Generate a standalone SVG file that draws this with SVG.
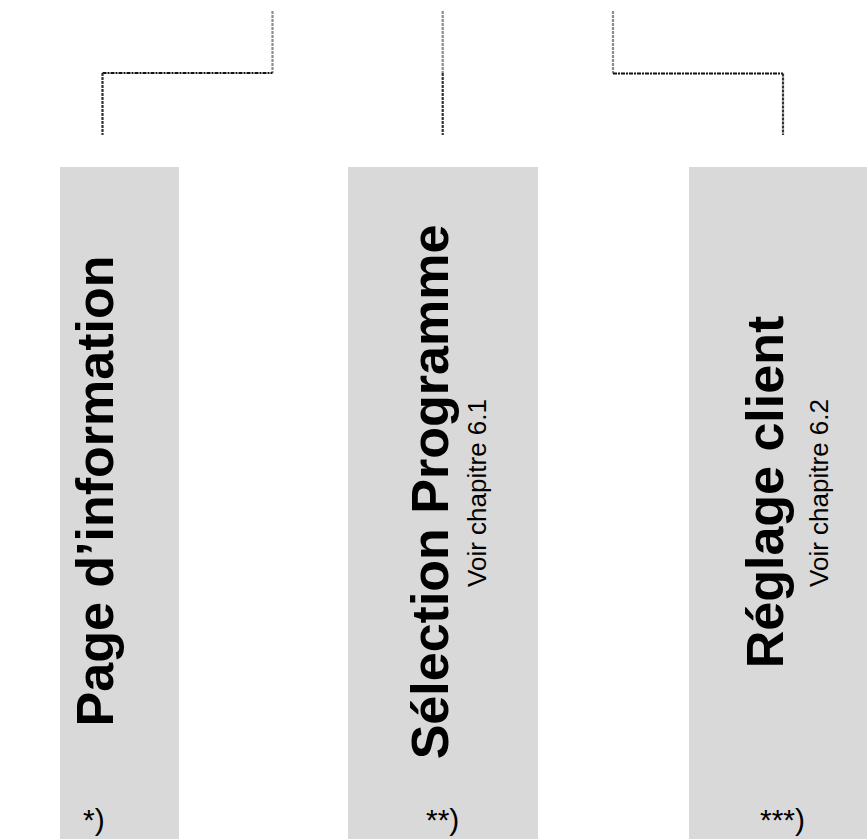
<svg xmlns="http://www.w3.org/2000/svg" width="867" height="839" viewBox="0 0 867 839">
<style>
.box{fill:#d9d9d9;stroke:none}
.title{font-family:"Liberation Sans",Arial,sans-serif;font-weight:bold;font-size:52px;fill:#000}
.sub{font-family:"Liberation Sans",Arial,sans-serif;font-size:26px;fill:#000}
.note{font-family:"Liberation Sans",Arial,sans-serif;font-size:30px;fill:#000}
.up{stroke:#8c8c8c;stroke-width:2.2;fill:none;stroke-dasharray:3,1}
.hz{stroke:#111;stroke-width:2.2;fill:none;stroke-dasharray:4,1,2,1}
.dn{stroke:#333;stroke-width:2.2;fill:none;stroke-dasharray:3,1}
</style>
<rect width="867" height="839" fill="#fff"/>
<g id="connectors">
<line class="up" x1="272.5" y1="11" x2="272.5" y2="73"/>
<line class="hz" x1="102.5" y1="73" x2="272.5" y2="73"/>
<line class="dn" x1="102.5" y1="73" x2="102.5" y2="135"/>
<line class="up" x1="442.7" y1="11" x2="442.7" y2="73"/>
<line class="dn" x1="442.7" y1="73" x2="442.7" y2="135"/>
<line class="up" x1="613" y1="11" x2="613" y2="73.5"/>
<line class="hz" x1="613" y1="73.5" x2="783" y2="73.5"/>
<line class="dn" x1="783" y1="73.5" x2="783" y2="135"/>
</g>
<g id="page-information">
<rect class="box" x="60" y="167" width="119" height="672"/>
<text class="title" transform="translate(113,491) rotate(-90)" text-anchor="middle">Page d’information</text>
<text class="note" x="83" y="830">*)</text>
</g>
<g id="selection-programme">
<rect class="box" x="348" y="167" width="190" height="672"/>
<text class="title" transform="translate(448,492) rotate(-90)" text-anchor="middle">Sélection Programme</text>
<text class="sub" transform="translate(486,493) rotate(-90)" text-anchor="middle">Voir chapitre 6.1</text>
<text class="note" x="426" y="830">**)</text>
</g>
<g id="reglage-client">
<rect class="box" x="689" y="167" width="178" height="672"/>
<text class="title" transform="translate(783,492) rotate(-90)" text-anchor="middle">Réglage client</text>
<text class="sub" transform="translate(828,493) rotate(-90)" text-anchor="middle">Voir chapitre 6.2</text>
<text class="note" x="760" y="830">***)</text>
</g>
</svg>
